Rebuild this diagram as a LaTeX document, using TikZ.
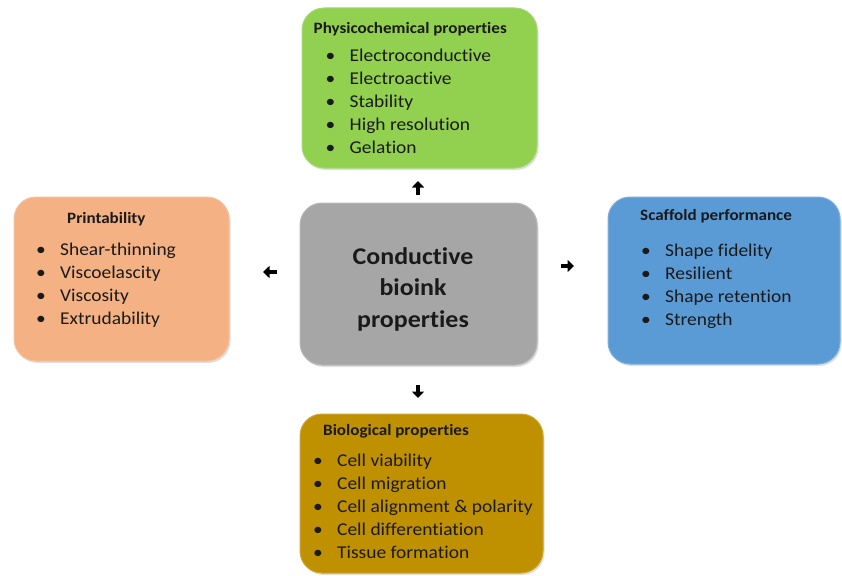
\documentclass[tikz,border=0pt]{standalone}
\usepackage{fontspec}
\setmainfont{Carlito}[FakeStretch=1.08, Ligatures=NoCommon]
\usetikzlibrary{arrows.meta,shadows}

\definecolor{physgreen}{HTML}{92D050}
\definecolor{coregray}{HTML}{A6A6A6}
\definecolor{biogold}{HTML}{BF9000}
\definecolor{scafblue}{HTML}{5B9BD5}
\definecolor{printpeach}{HTML}{F4B183}
\definecolor{inktext}{HTML}{1A1A1A}

\newcommand{\blt}[1]{\makebox[24pt][l]{\textbullet}#1}

\begin{document}
\begin{tikzpicture}[x=1pt,y=-1pt]
  \tikzset{card/.style = {rounded corners=22pt, inner sep=0pt, outer sep=0pt, line width=1pt,
      drop shadow={opacity=0.25, shadow xshift=1.5pt, shadow yshift=-2pt}},
    cardtitle/.style = {inner sep=0pt, anchor=base west, text=inktext,
      font=\fontsize{15.8}{18}\selectfont\bfseries},
    cardlist/.style = {inner sep=0pt, anchor=base west, text=inktext,
      font=\fontsize{18}{23}\selectfont},
    blockarrow/.style = {line width=4.5pt, -{Triangle[width=12pt,length=6.5pt]}}}
  \useasboundingbox (0,0) rectangle (842,575);

  % boxes
  \node[card, fill=physgreen, draw=physgreen!80!white, minimum width=235pt, minimum height=160pt] (phys) at (419.5,88) {};
  \node[card, fill=coregray, draw=coregray!80!white, minimum width=237pt, minimum height=162pt] (core) at (418.5,284) {};
  \node[card, fill=biogold, draw=biogold!80!white, minimum width=243pt, minimum height=159pt] (bio) at (421.5,493.5) {};
  \node[card, fill=scafblue, draw=scafblue!80!white, minimum width=232pt, minimum height=167pt] (scaf) at (724,280.5) {};
  \node[card, fill=printpeach, draw=printpeach!80!white, minimum width=215pt, minimum height=164pt] (print) at (121.5,279) {};

  % texts
  \node[inner sep=0pt, anchor=base, text=inktext, font=\fontsize{24}{31.5}\selectfont\bfseries]
    (core-text) at (413,264.3) {\begin{tabular}[t]{@{}c@{}}Conductive\\bioink\\properties\end{tabular}};

  \node[cardtitle] (phys-title) at (313.5,34) {Physicochemical properties};
  \node[cardlist] (phys-list) at (325.5,61.7) {\begin{tabular}[t]{@{}l@{}}
    \blt{Electroconductive}\\ \blt{Electroactive}\\ \blt{Stability}\\
    \blt{High resolution}\\ \blt{Gelation}\end{tabular}};

  \node[cardtitle] (print-title) at (67,223.5) {Printability};
  \node[cardlist] (print-list) at (36,255) {\begin{tabular}[t]{@{}l@{}}
    \blt{Shear-thinning}\\ \blt{Viscoelascity}\\ \blt{Viscosity}\\
    \blt{Extrudability}\end{tabular}};

  \node[cardtitle] (scaf-title) at (640,220.7) {Scaffold performance};
  \node[cardlist] (scaf-list) at (641,256.7) {\begin{tabular}[t]{@{}l@{}}
    \blt{Shape fidelity}\\ \blt{Resilient}\\ \blt{Shape retention}\\
    \blt{Strength}\end{tabular}};

  \node[cardtitle] (bio-title) at (323,435.7) {Biological properties};
  \node[cardlist] (bio-list) at (313,466) {\begin{tabular}[t]{@{}l@{}}
    \blt{Cell viability}\\ \blt{Cell migration}\\ \blt{Cell alignment \& polarity}\\
    \blt{Cell differentiation}\\ \blt{Tissue formation}\end{tabular}};

  % arrows
  \draw[blockarrow, shorten <=8pt, shorten >=13pt] (core.north -| 418,0) -- (phys.south -| 418,0);
  \draw[blockarrow, shorten <=20pt, shorten >=16pt] (core.south -| 418,0) -- (bio.north -| 418,0);
  \draw[blockarrow, shorten <=23pt, shorten >=34pt] (core.west |- 0,272) -- (print.east |- 0,272);
  \draw[blockarrow, shorten <=24pt, shorten >=34pt] (core.east |- 0,266) -- (scaf.west |- 0,266);
\end{tikzpicture}
\end{document}
